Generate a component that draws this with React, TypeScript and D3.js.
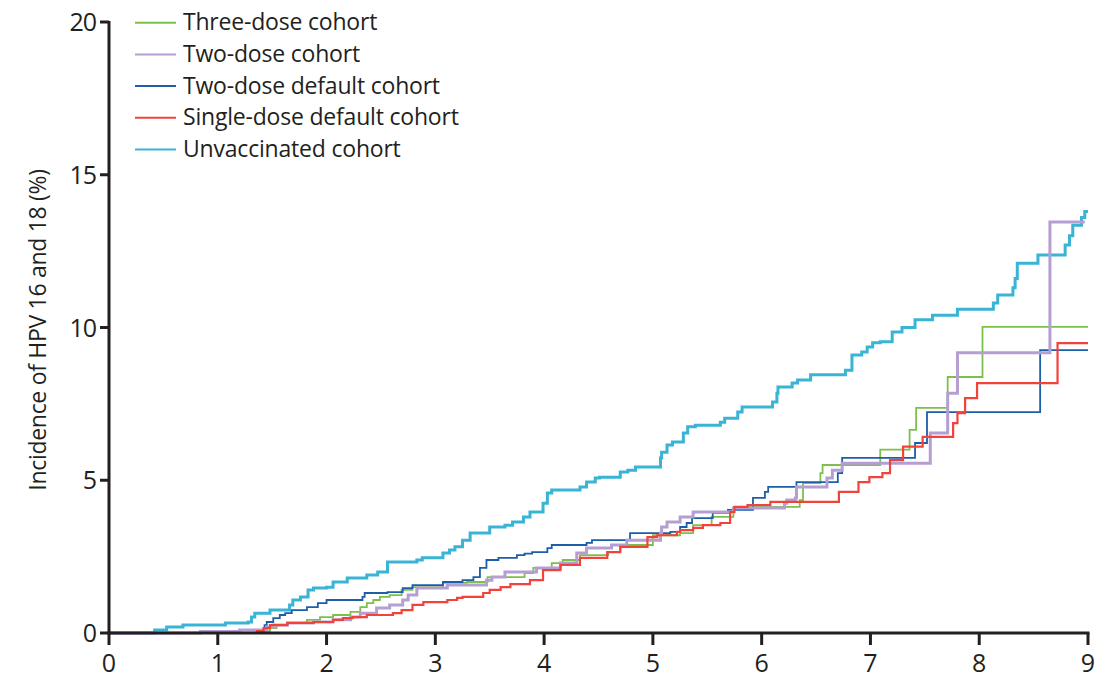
import React from "react";
import * as d3 from "d3";

const xTicks = [0, 1, 2, 3, 4, 5, 6, 7, 8, 9];
const yTicks = [0, 5, 10, 15, 20];

const seriesNames = [
  "Three-dose cohort",
  "Two-dose cohort",
  "Two-dose default cohort",
  "Single-dose default cohort",
  "Unvaccinated cohort",
];

const threeDose: [number, number][] = [
  [0, 0], [1.45, 0.05], [1.48, 0.16], [1.54, 0.26], [1.64, 0.33], [1.82, 0.43], [1.94, 0.52], [2.06, 0.59],
  [2.22, 0.69], [2.31, 0.85], [2.37, 0.98], [2.43, 1.08], [2.49, 1.18], [2.58, 1.24], [2.69, 1.41], [2.79, 1.5],
  [3.07, 1.64], [3.29, 1.67], [3.48, 1.83], [3.82, 1.96], [3.9, 2.13], [4.07, 2.29], [4.17, 2.39], [4.33, 2.55],
  [4.59, 2.65], [4.7, 2.88], [5.0, 3.2], [5.25, 3.27], [5.37, 3.53], [5.54, 3.8], [5.74, 4.03], [5.75, 4.13],
  [6.35, 4.35], [6.38, 4.91], [6.54, 5.23], [6.56, 5.5], [7.09, 6.0], [7.36, 6.65], [7.42, 7.37], [7.71, 8.38],
  [8.03, 10.02], [9.0, 10.02],
];

const twoDose: [number, number][] = [
  [0, 0], [0.84, 0.05], [1.2, 0.1], [1.45, 0.2], [1.51, 0.26], [1.64, 0.33], [1.88, 0.36], [2.06, 0.43],
  [2.22, 0.52], [2.31, 0.65], [2.46, 0.82], [2.58, 0.92], [2.7, 1.08], [2.75, 1.24], [2.83, 1.47], [3.11, 1.57],
  [3.47, 1.73], [3.52, 1.83], [3.64, 2.0], [3.93, 2.13], [4.15, 2.29], [4.3, 2.62], [4.39, 2.78], [4.62, 2.88],
  [4.76, 3.04], [5.07, 3.27], [5.08, 3.47], [5.13, 3.63], [5.25, 3.8], [5.37, 3.96], [5.74, 4.09], [6.21, 4.25],
  [6.23, 4.35], [6.31, 4.42], [6.32, 4.78], [6.6, 5.07], [6.65, 5.33], [6.74, 5.56], [7.55, 6.55], [7.71, 7.85],
  [7.8, 9.17], [8.65, 13.45], [8.97, 13.45],
];

const twoDoseDefault: [number, number][] = [
  [0, 0], [1.43, 0.26], [1.45, 0.36], [1.51, 0.49], [1.57, 0.59], [1.62, 0.65], [1.68, 0.75], [1.82, 0.85],
  [1.92, 0.98], [2.0, 1.08], [2.33, 1.18], [2.35, 1.31], [2.56, 1.34], [2.7, 1.47], [2.79, 1.57], [3.07, 1.67],
  [3.25, 1.73], [3.35, 1.83], [3.41, 2.13], [3.47, 2.39], [3.58, 2.46], [3.75, 2.55], [3.82, 2.6], [3.89, 2.65],
  [4.03, 2.78], [4.07, 2.88], [4.39, 2.95], [4.44, 3.04], [4.79, 3.27], [5.16, 3.31], [5.25, 3.47], [5.31, 3.6],
  [5.36, 3.76], [5.55, 3.93], [5.69, 4.03], [5.92, 4.42], [6.03, 4.62], [6.06, 4.78], [6.32, 4.94], [6.7, 5.23],
  [6.74, 5.73], [7.41, 6.22], [7.52, 7.23], [8.56, 9.26], [9.0, 9.26],
];

const singleDoseDefault: [number, number][] = [
  [1.18, 0], [1.36, 0.06], [1.42, 0.16], [1.48, 0.26], [1.64, 0.33], [1.88, 0.36], [2.06, 0.43], [2.15, 0.49],
  [2.24, 0.52], [2.37, 0.59], [2.61, 0.65], [2.69, 0.75], [2.79, 0.92], [2.89, 1.01], [3.11, 1.08], [3.2, 1.15],
  [3.25, 1.18], [3.44, 1.31], [3.5, 1.41], [3.6, 1.5], [3.69, 1.6], [3.87, 1.73], [3.99, 2.06], [4.15, 2.23],
  [4.33, 2.46], [4.58, 2.65], [4.7, 2.82], [4.95, 3.14], [5.04, 3.2], [5.22, 3.31], [5.25, 3.37], [5.37, 3.44],
  [5.46, 3.53], [5.62, 3.6], [5.71, 3.96], [5.75, 4.13], [5.87, 4.19], [6.08, 4.29], [6.71, 4.62], [6.89, 4.94],
  [6.99, 5.1], [7.11, 5.23], [7.18, 5.66], [7.3, 6.1], [7.48, 6.42], [7.76, 6.87], [7.8, 7.2], [7.87, 7.69],
  [7.98, 8.18], [8.72, 9.49], [9.0, 9.49],
];

const unvaccinated: [number, number][] = [
  [0, 0], [0.42, 0.1], [0.53, 0.2], [0.68, 0.26], [1.07, 0.33], [1.28, 0.36], [1.31, 0.52], [1.34, 0.65],
  [1.48, 0.75], [1.66, 0.92], [1.69, 1.08], [1.76, 1.18], [1.83, 1.41], [1.88, 1.47], [2.0, 1.5], [2.06, 1.67],
  [2.19, 1.8], [2.37, 1.9], [2.47, 2.0], [2.56, 2.32], [2.83, 2.39], [2.88, 2.46], [3.07, 2.62], [3.13, 2.72],
  [3.18, 2.82], [3.25, 3.04], [3.32, 3.27], [3.5, 3.47], [3.64, 3.53], [3.71, 3.63], [3.81, 3.8], [3.87, 3.96],
  [3.99, 4.25], [4.03, 4.58], [4.07, 4.68], [4.33, 4.78], [4.39, 4.94], [4.47, 5.07], [4.51, 5.1], [4.7, 5.27],
  [4.77, 5.33], [4.84, 5.43], [5.07, 5.73], [5.08, 5.92], [5.13, 6.15], [5.18, 6.25], [5.28, 6.55], [5.32, 6.75],
  [5.39, 6.8], [5.62, 6.9], [5.66, 7.03], [5.78, 7.23], [5.82, 7.4], [6.1, 7.56], [6.14, 7.85], [6.15, 8.05],
  [6.28, 8.18], [6.33, 8.28], [6.45, 8.45], [6.77, 8.6], [6.83, 9.1], [6.92, 9.2], [6.97, 9.36], [7.02, 9.5],
  [7.09, 9.53], [7.2, 9.85], [7.29, 10.0], [7.41, 10.25], [7.57, 10.4], [7.8, 10.6], [8.13, 10.8], [8.17, 11.06],
  [8.31, 11.3], [8.33, 11.6], [8.35, 12.1], [8.54, 12.37], [8.79, 12.7], [8.83, 13.0], [8.86, 13.35], [8.94, 13.6],
  [8.97, 13.8], [9.0, 13.8],
];

const colors = ["#7cc04a", "#b59fd2", "#1d5ea9", "#f2433b", "#3ab4d4"];
const widths = [1.8, 3, 1.8, 2.2, 3];
const data = [threeDose, twoDose, twoDoseDefault, singleDoseDefault, unvaccinated];
const drawOrder = [4, 0, 2, 1, 3];

export default function App() {
  const W = 1096;
  const H = 678;
  const x = d3.scaleLinear().domain([0, 9]).range([109, 1088]);
  const y = d3.scaleLinear().domain([0, 20]).range([633, 22]);
  const line = d3
    .line<[number, number]>()
    .x((d) => x(d[0]))
    .y((d) => y(d[1]))
    .curve(d3.curveStepAfter);
  const font = "'Open Sans', sans-serif";
  const ink = "#231f20";

  return (
    <svg
      width={W}
      height={H}
      style={{ position: "absolute", left: 0, top: 0, background: "#fff" }}
      fontFamily={font}
    >
      {drawOrder.map((i) => (
        <path
          key={i}
          d={line(data[i]) || ""}
          fill="none"
          stroke={colors[i]}
          strokeWidth={widths[i]}
          strokeLinejoin="miter"
        />
      ))}
      {/* axes */}
      <line x1={x(0)} x2={x(0)} y1={y(20) - 1} y2={y(0) + 1.5} stroke={ink} strokeWidth={3} />
      <line x1={x(0) - 1.5} x2={x(9) + 1.5} y1={y(0)} y2={y(0)} stroke={ink} strokeWidth={3} />
      {yTicks.map((t) => (
        <g key={"y" + t}>
          <line x1={x(0) - 9} x2={x(0)} y1={y(t)} y2={y(t)} stroke={ink} strokeWidth={3} />
          <text x={x(0) - 13} y={y(t)} dy="0.36em" textAnchor="end" fontSize={25} letterSpacing={-1} fill={ink}>
            {t}
          </text>
        </g>
      ))}
      {xTicks.map((t) => (
        <g key={"x" + t}>
          <line x1={x(t)} x2={x(t)} y1={y(0)} y2={y(0) + 12} stroke={ink} strokeWidth={3} />
          <text x={x(t)} y={y(0) + 30} dy="0.36em" textAnchor="middle" fontSize={25} fill={ink}>
            {t}
          </text>
        </g>
      ))}
      <text
        transform={`translate(38,${330}) rotate(-90)`}
        textAnchor="middle"
        dy="0.35em"
        fontSize={23}
        letterSpacing={-0.3}
        fill={ink}
      >
        Incidence of HPV 16 and 18 (%)
      </text>
      {/* legend */}
      {seriesNames.map((name, i) => (
        <g key={name} transform={`translate(135,${22.7 + i * 31.7})`}>
          <line x1={0} x2={41} y1={0} y2={0} stroke={colors[i]} strokeWidth={2} />
          <text x={48} y={0} dy="0.33em" fontSize={23} letterSpacing={-0.2} fill={ink}>
            {name}
          </text>
        </g>
      ))}
    </svg>
  );
}
